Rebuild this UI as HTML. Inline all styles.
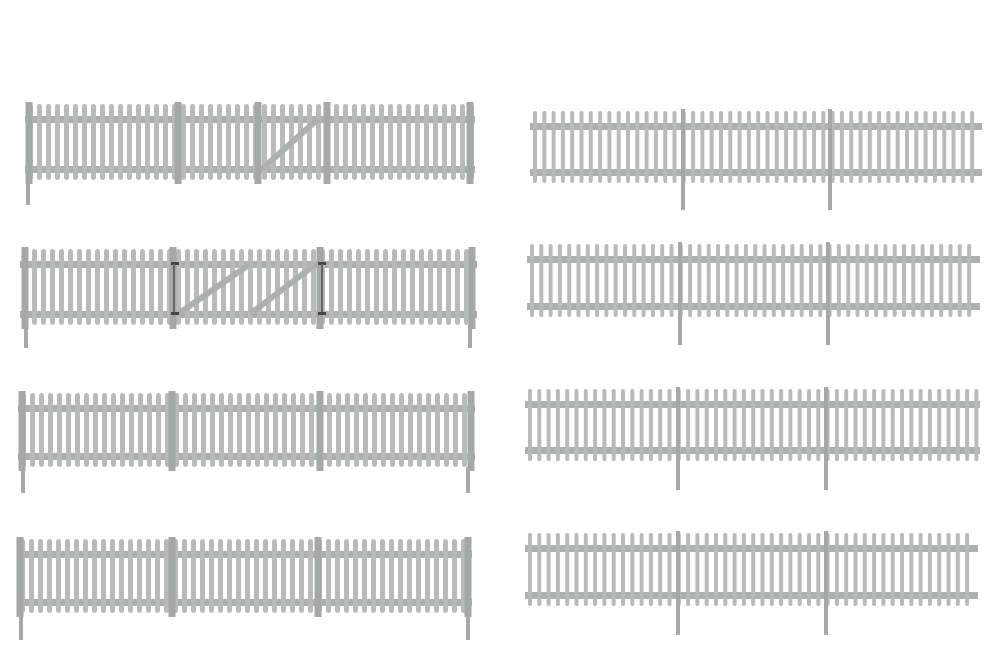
<!DOCTYPE html>
<html><head><meta charset="utf-8"><style>
html,body{margin:0;padding:0;background:#fff;width:1000px;height:660px;overflow:hidden}
svg{display:block}
</style></head><body>
<svg id="s" width="1000" height="660" xmlns="http://www.w3.org/2000/svg"></svg>
<script>
var s=document.getElementById('s'),h='';
var P='#b9bbbb',R='#aeb0b0',D='#a6a8a8';
function fence(x0,x1,yt,yb,sp,pw,posts,stakes,sy,gates,pwid){
  pwid=pwid||7;
  var r1=yt+12,r2=yb-14;
  h+='<rect x="'+x0+'" y="'+r1+'" width="'+(x1-x0)+'" height="7" fill="'+R+'"/>';
  h+='<rect x="'+x0+'" y="'+r2+'" width="'+(x1-x0)+'" height="7" fill="'+R+'"/>';
  for(var x=x0+3;x<x1-pw;x+=sp){
    h+='<rect x="'+x.toFixed(1)+'" y="'+yt+'" width="'+pw+'" height="'+(yb-yt)+'" rx="'+(pw/2)+'" fill="'+P+'"/>';
  }
  (gates||[]).forEach(function(g){
    h+='<line x1="'+g[0]+'" y1="'+(r2+3)+'" x2="'+g[1]+'" y2="'+(r1+3)+'" stroke="'+R+'" stroke-width="6"/>';
  });
  posts.forEach(function(p){
    h+='<rect x="'+(p-pwid/2)+'" y="'+(yt-2)+'" width="'+pwid+'" height="'+(yb-yt+6)+'" fill="'+D+'"/>';
  });
  stakes.forEach(function(p){
    h+='<rect x="'+(p-2)+'" y="'+yb+'" width="4" height="'+(sy-yb)+'" fill="'+D+'"/>';
  });
}
fence(25,475,104,180,9,5,[29,178,258,327,470],[28],205,[[262,318]]);
fence(20,477,249,325,9,5,[25,173,320,472],[26,470],348,[[178,250],[250,316]]);
fence(18,475,393,467,9,5,[22,172,320,471],[23,468],493);
fence(17,472,539,613,9,5,[20,172,318,468],[21,468],640);
fence(530,982,111,183,9.3,4,[683,830],[683,830],210,null,4);
fence(527,980,244,317,9.3,4,[680,828],[680,828],345,null,4);
fence(525,980,389,461,9.3,4,[678,826],[678,826],490,null,4);
fence(525,978,533,606,9.3,4,[678,826],[678,826],635,null,4);
[[175,262],[175,312],[322,262],[322,312]].forEach(function(q){
  h+='<rect x="'+(q[0]-4)+'" y="'+q[1]+'" width="8" height="3" fill="#444"/>';
});
h+='<rect x="173" y="264" width="2" height="48" fill="#666"/><rect x="321" y="264" width="2" height="48" fill="#666"/>';
s.innerHTML=h;
</script>
</body></html>
